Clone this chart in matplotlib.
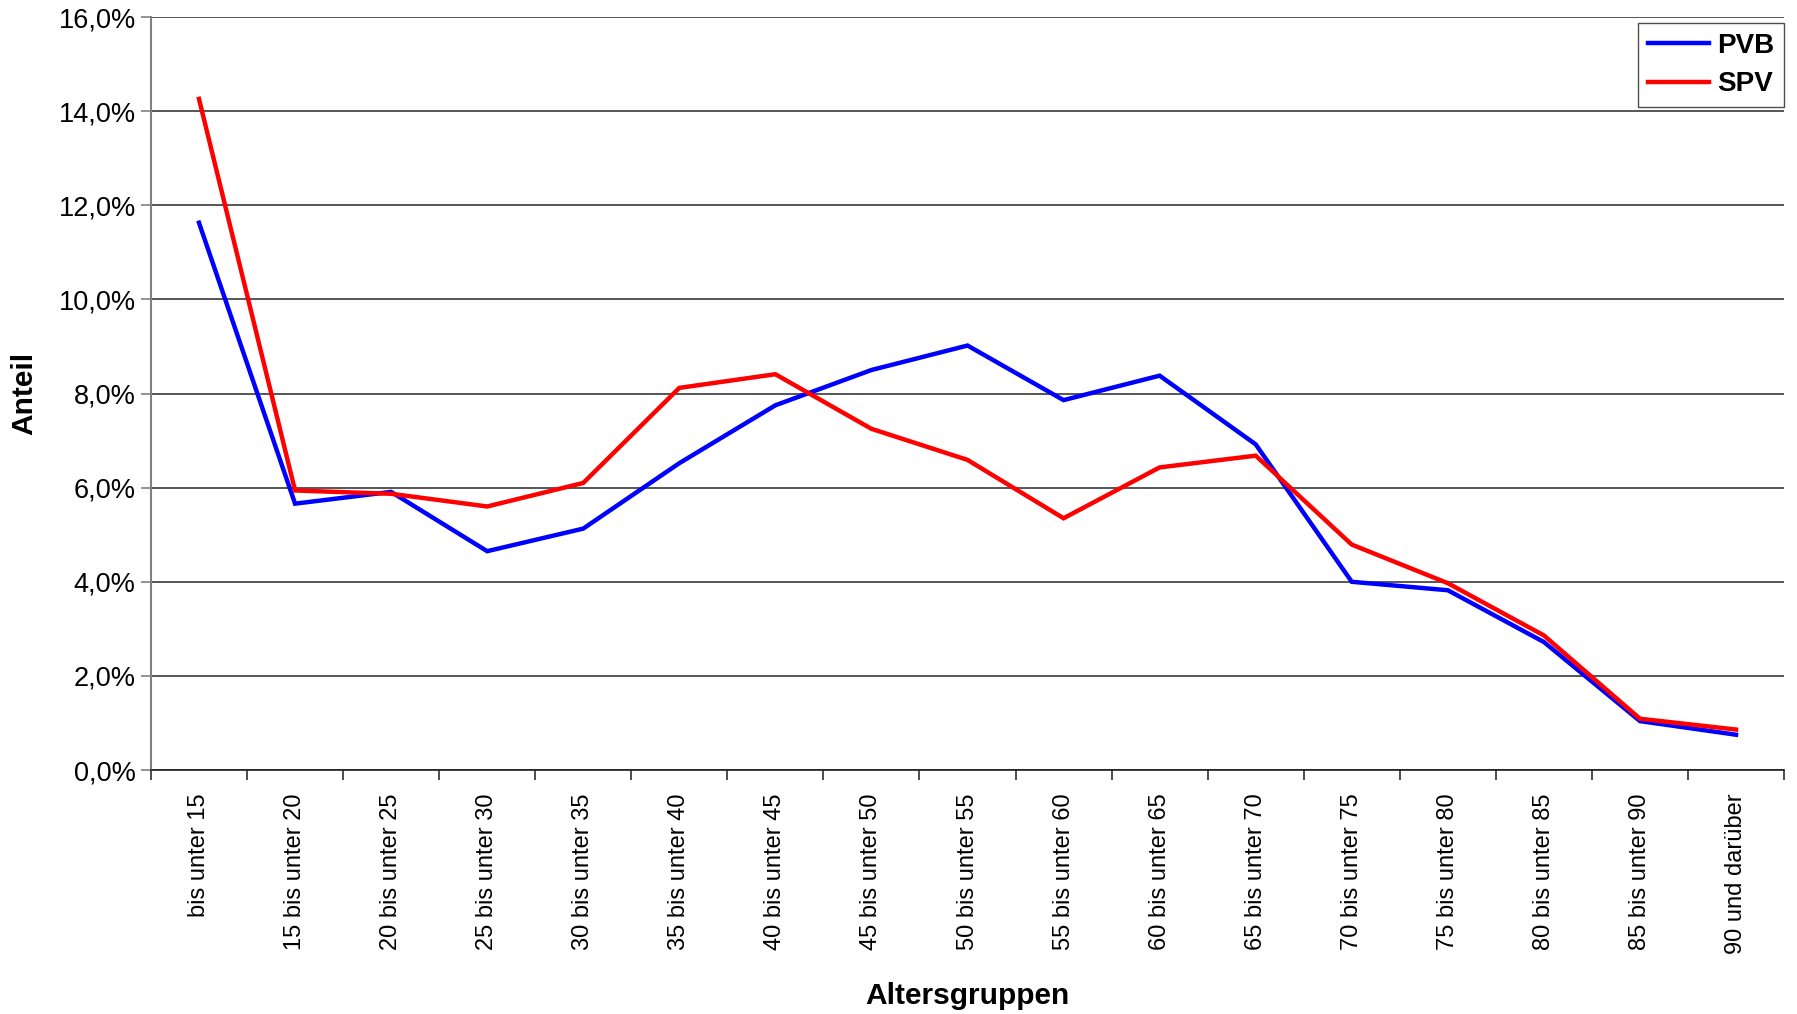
import matplotlib
matplotlib.use("Agg")
import matplotlib.pyplot as plt
from matplotlib.ticker import FuncFormatter, FixedLocator

plt.rcParams['font.family'] = ['Liberation Sans', 'DejaVu Sans']

# Altersgruppen und Anteile (in Prozent)
categories = [
    "bis unter 15", "15 bis unter 20", "20 bis unter 25", "25 bis unter 30",
    "30 bis unter 35", "35 bis unter 40", "40 bis unter 45", "45 bis unter 50",
    "50 bis unter 55", "55 bis unter 60", "60 bis unter 65", "65 bis unter 70",
    "70 bis unter 75", "75 bis unter 80", "80 bis unter 85", "85 bis unter 90",
    "90 und darüber",
]
pvb = [11.63, 5.66, 5.91, 4.65, 5.13, 6.52, 7.75, 8.50, 9.02, 7.86, 8.38,
       6.92, 4.00, 3.82, 2.72, 1.04, 0.75]
spv = [14.26, 5.94, 5.87, 5.60, 6.10, 8.12, 8.41, 7.25, 6.59, 5.35, 6.43,
       6.68, 4.79, 3.97, 2.86, 1.09, 0.86]
y_ticks = [0, 2, 4, 6, 8, 10, 12, 14, 16]

fig = plt.figure(figsize=(17.97, 10.14), dpi=100)
ax = fig.add_axes([0.084, 0.2406, 0.9088, 0.7426])

x = list(range(len(categories)))
ax.plot(x, pvb, color="#0000FF", lw=3.2, label="PVB", solid_joinstyle="miter")
ax.plot(x, spv, color="#FF0000", lw=3.2, label="SPV", solid_joinstyle="miter")

ax.set_xlim(-0.5, len(categories) - 0.5)
ax.set_ylim(0, 16)

# Y axis: percentages with German decimal comma
ax.yaxis.set_major_locator(FixedLocator(y_ticks))
ax.yaxis.set_major_formatter(FuncFormatter(lambda v, p: f"{v:.1f}".replace(".", ",") + "%"))
ax.tick_params(axis="y", which="major", length=7, width=1.2, color="#808080",
               labelsize=19.5, pad=4)
ax.grid(axis="y", color="#3a3a3a", lw=1.2)
ax.set_axisbelow(True)

# X axis: labels at category centres, tick marks at category boundaries
ax.set_xticks(x)
ax.set_xticklabels(categories, rotation=90, fontsize=17, va="top", ha="center")
ax.tick_params(axis="x", which="major", length=0, pad=17)
ax.set_xticks([i - 0.5 for i in range(len(categories) + 1)], minor=True)
ax.tick_params(axis="x", which="minor", length=7, width=1.2, color="#303030")

for side in ("top", "right"):
    ax.spines[side].set_visible(False)
ax.spines["left"].set_color("#808080")
ax.spines["left"].set_linewidth(1.5)
ax.spines["bottom"].set_color("#202020")
ax.spines["bottom"].set_linewidth(1.2)

ax.set_xlabel("Altersgruppen", fontsize=21.5, fontweight="bold")
ax.set_ylabel("Anteil", fontsize=21.5, fontweight="bold")
ax.xaxis.label.set_verticalalignment("center")
ax.yaxis.label.set_verticalalignment("center")
ax.xaxis.set_label_coords(0.5, -0.300)
ax.yaxis.set_label_coords(-0.0778, 0.5)

leg = ax.legend(loc="upper right", bbox_to_anchor=(1.0, 0.992),
                prop={"weight": "bold", "size": 20}, frameon=True, fancybox=False,
                handlelength=2.2, handletextpad=0.3, borderpad=0.35,
                labelspacing=0.45, borderaxespad=0.0)
leg.get_frame().set_edgecolor("#202020")
leg.get_frame().set_linewidth(1.0)

fig.savefig("out.png", dpi=100)
